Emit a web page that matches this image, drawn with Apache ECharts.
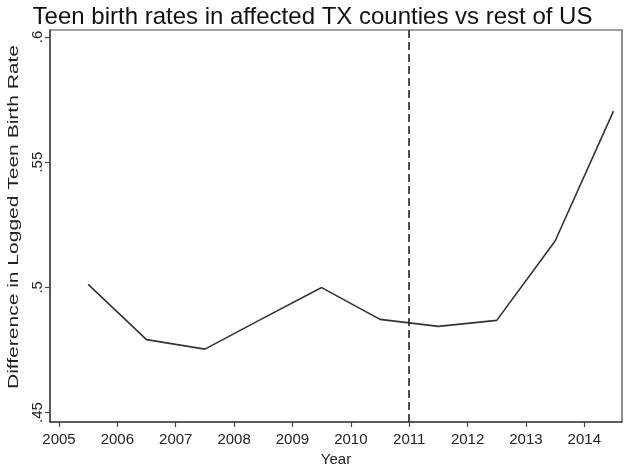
<!DOCTYPE html>
<html>
<head>
<meta charset="utf-8">
<script src="https://cdn.jsdelivr.net/npm/echarts@6/dist/echarts.min.js"></script>
<style>
  html, body { margin: 0; padding: 0; background: #fff; }
  #chart { width: 625px; height: 466px; }
</style>
</head>
<body>
<div id="chart"></div>
<script>
// Mid-year observations of the logged teen birth rate gap
const years = [2005.5, 2006.5, 2007.5, 2008.5, 2009.5, 2010.5, 2011.5, 2012.5, 2013.5, 2014.5];
const diffValues = [0.5012, 0.4791, 0.4753, 0.4877, 0.4999, 0.4872, 0.4844, 0.4868, 0.5185, 0.5704];
const xTicks = [2005, 2006, 2007, 2008, 2009, 2010, 2011, 2012, 2013, 2014];
const yTicks = [0.45, 0.5, 0.55, 0.6];
const policyYear = 2011;
const yAxisTitle = 'Difference in Logged Teen Birth Rate';

const axisColor = '#444';
const textColor = '#222';
const labelFont = 'Liberation Sans, Arial, sans-serif';

const chart = echarts.init(document.getElementById('chart'), null, { renderer: 'canvas' });
chart.setOption({
  animation: false,
  backgroundColor: '#fff',
  title: {
    text: 'Teen birth rates in affected TX counties vs rest of US',
    left: 'center',
    top: 0,
    textStyle: { fontFamily: labelFont, fontWeight: 'normal', fontSize: 24, color: '#111' }
  },
  grid: {
    left: 50, right: 3, top: 30, bottom: 44,
    outerBoundsMode: 'none',
    containLabel: false,
    show: true, borderColor: axisColor, borderWidth: 1.2, backgroundColor: '#fff'
  },
  // Y axis title drawn as a stretched, rotated text element
  graphic: [{
    type: 'text',
    x: 14, y: 217,
    rotation: Math.PI / 2,
    scaleX: 1.4,
    style: {
      text: yAxisTitle,
      fontFamily: labelFont, fontSize: 15, fill: textColor,
      align: 'center', verticalAlign: 'middle'
    }
  }],
  xAxis: {
    type: 'value',
    min: 2004.846, max: 2014.646,
    name: 'Year', nameLocation: 'middle', nameGap: 30,
    nameTextStyle: { fontFamily: labelFont, fontSize: 15, color: textColor },
    axisLine: { show: true, onZero: false, lineStyle: { color: axisColor, width: 1.5 } },
    axisTick: { show: true, length: 5, customValues: xTicks, lineStyle: { color: axisColor, width: 1.2 } },
    axisLabel: {
      customValues: xTicks, margin: 10,
      fontFamily: labelFont, fontSize: 15, color: textColor,
      formatter: v => String(v)
    },
    splitLine: { show: false }
  },
  yAxis: {
    type: 'value',
    min: 0.4462, max: 0.6028,
    axisLine: { show: true, onZero: false, lineStyle: { color: axisColor, width: 1.5 } },
    axisTick: { show: true, length: 5, customValues: yTicks, lineStyle: { color: axisColor, width: 1.2 } },
    axisLabel: {
      customValues: yTicks, rotate: 90, margin: 5,
      fontFamily: labelFont, fontSize: 15, color: textColor,
      formatter: v => String(+v.toFixed(2)).replace(/^0/, '')
    },
    splitLine: { show: false }
  },
  series: [{
    type: 'line',
    data: years.map((y, i) => [y, diffValues[i]]),
    symbol: 'none',
    lineStyle: { color: '#333', width: 1.6 },
    markLine: {
      silent: true,
      symbol: 'none',
      label: { show: false },
      lineStyle: { color: '#222', width: 1.6, type: [8, 4] },
      data: [{ xAxis: policyYear }]
    }
  }]
});
</script>
</body>
</html>
